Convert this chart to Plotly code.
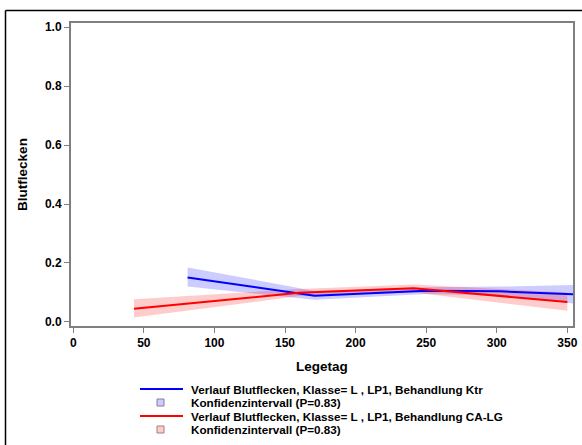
import plotly.graph_objects as go

# Data
ktr_x = [81, 171, 250, 302, 354]
ktr_y = [0.151, 0.089, 0.106, 0.104, 0.094]
ktr_lo = [0.120, 0.075, 0.095, 0.090, 0.063]
ktr_hi = [0.185, 0.105, 0.118, 0.120, 0.125]

calg_x = [43, 160, 241, 350]
calg_y = [0.045, 0.099, 0.114, 0.068]
calg_lo = [0.015, 0.088, 0.100, 0.038]
calg_hi = [0.077, 0.112, 0.127, 0.100]

x_ticks = [0, 50, 100, 150, 200, 250, 300, 350]
y_ticks = [0.0, 0.2, 0.4, 0.6, 0.8, 1.0]

legend_labels = [
    "Verlauf Blutflecken, Klasse= L , LP1, Behandlung Ktr",
    "Konfidenzintervall (P=0.83)",
    "Verlauf Blutflecken, Klasse= L , LP1, Behandlung CA-LG",
    "Konfidenzintervall (P=0.83)",
]

BLUE = "#0000ff"
RED = "#ff0000"
BLUE_BAND = "rgba(0,0,255,0.2)"
RED_BAND = "rgba(255,0,0,0.2)"
FONT = "Liberation Sans, Arial, sans-serif"

W, H = 582, 445
L, R, T, B = 71, 9, 23, 119
PW, PH = W - L - R, H - T - B


def px(xp):
    return (xp - L) / PW


def py(yp):
    return (H - B - yp) / PH


fig = go.Figure()

for xs, lo, hi, col in [(ktr_x, ktr_lo, ktr_hi, BLUE_BAND), (calg_x, calg_lo, calg_hi, RED_BAND)]:
    fig.add_trace(go.Scatter(
        x=xs + xs[::-1], y=hi + lo[::-1], fill="toself", fillcolor=col,
        line=dict(width=0), mode="lines", hoverinfo="skip", showlegend=False))

fig.add_trace(go.Scatter(x=ktr_x, y=ktr_y, mode="lines", line=dict(color=BLUE, width=2),
                         name=legend_labels[0], showlegend=False))
fig.add_trace(go.Scatter(x=calg_x, y=calg_y, mode="lines", line=dict(color=RED, width=2),
                         name=legend_labels[2], showlegend=False))

shapes = []
annotations = []
rows_y = [389, 402.5, 416, 429.5]
for i, (lab, yy) in enumerate(zip(legend_labels, rows_y)):
    if i % 2 == 0:
        col = BLUE if i == 0 else RED
        shapes.append(dict(type="line", xref="paper", yref="paper",
                           x0=px(140), x1=px(183), y0=py(yy), y1=py(yy),
                           line=dict(color=col, width=2)))
    else:
        fill = "#ccccff" if i == 1 else "#ffcccc"
        shapes.append(dict(type="rect", xref="paper", yref="paper",
                           x0=px(157), x1=px(164), y0=py(yy - 3.5), y1=py(yy + 3.5),
                           fillcolor=fill, line=dict(color="#7f7f9f" if i == 1 else "#9f7f7f", width=1)))
    annotations.append(dict(text=lab, xref="paper", yref="paper", x=px(189), y=py(yy),
                            xanchor="left", yanchor="middle", showarrow=False,
                            font=dict(family=FONT, size=11.7, color="black", weight="bold")))

# outer border (partially visible in the reference)
shapes.append(dict(type="line", xref="paper", yref="paper", x0=px(5.5), x1=px(5.5),
                   y0=py(445), y1=py(10.5), line=dict(color="black", width=1.5)))
shapes.append(dict(type="line", xref="paper", yref="paper", x0=px(5.5), x1=px(582),
                   y0=py(10.5), y1=py(10.5), line=dict(color="black", width=1.5)))

axis_common = dict(showgrid=False, zeroline=False, showline=True, linecolor="#7f7f7f",
                   linewidth=2, mirror=True, ticks="outside", ticklen=5, tickwidth=1,
                   tickcolor="#7f7f7f",
                   tickfont=dict(family=FONT, size=12, color="black", weight="bold"))

fig.update_layout(
    width=W, height=H,
    margin=dict(l=L, r=R, t=T, b=B, autoexpand=False),
    paper_bgcolor="white", plot_bgcolor="white",
    showlegend=False,
    xaxis=dict(range=[-1.6, 354], tickvals=x_ticks, ticktext=[str(v) for v in x_ticks],
               title=dict(text="Legetag", font=dict(family=FONT, size=13.5, color="black", weight="bold"),
                          standoff=12),
               **axis_common),
    yaxis=dict(range=[-0.0136, 1.0136], tickvals=y_ticks, ticktext=[f"{v:.1f}" for v in y_ticks],
               title=dict(text="Blutflecken", font=dict(family=FONT, size=13.5, color="black", weight="bold"),
                          standoff=14),
               **axis_common),
    shapes=shapes,
    annotations=annotations,
)

fig.write_html(
    "out.html", config={"displayModeBar": False},
    post_script=("document.body.style.margin='0';document.body.style.overflow='hidden';"
                 "document.documentElement.style.overflow='hidden';"))
